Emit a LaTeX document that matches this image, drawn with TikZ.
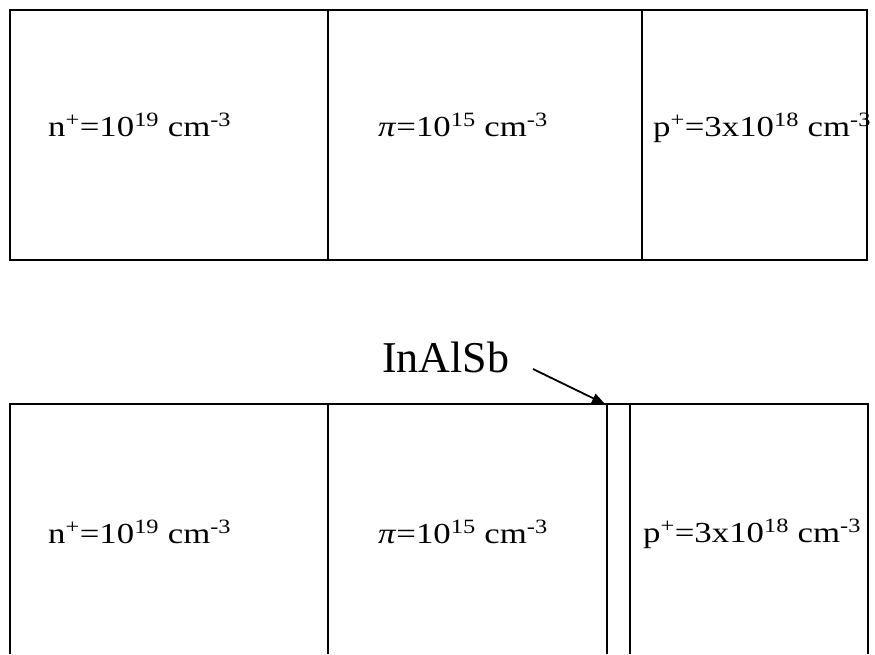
\documentclass[tikz,border=0pt]{standalone}
\usepackage{fontspec}
\setmainfont{Liberation Serif}
\newfontfamily\lblfont[FakeStretch=1.2]{Liberation Serif}
\usetikzlibrary{arrows.meta}
\tikzset{
  wall/.style={line width=1.3pt, black},
  lbl/.style={anchor=base west, inner sep=0pt, font=\lblfont\fontsize{29}{34}\selectfont},
  big/.style={anchor=base west, inner sep=0pt, font=\fontsize{44}{50}\selectfont},
  ptr/.style={line width=1.8pt, -{Triangle[length=13pt,width=10pt]}}
}
\newcommand{\sps}[1]{\textsuperscript{#1}}
\begin{document}
\begin{tikzpicture}[x=1pt,y=-1pt]
\useasboundingbox (0,0) rectangle (875,654);
% top structure
\draw[wall] (10,10) rectangle (867,260);
\draw[wall] (328,10) -- (328,260);
\draw[wall] (642,10) -- (642,260);
\node[lbl] (t1) at (48,136) {n\sps{+}=10\sps{19} cm\sps{-3}};
\node[lbl] (t2) at (378,136) {\textit{π}=10\sps{15} cm\sps{-3}};
\node[lbl] (t3) at (653,136) {p\sps{+}=3x10\sps{18} cm\sps{-3}};
% bottom structure
\draw[wall] (10,654) -- (10,404) -- (868,404) -- (868,654);
\draw[wall] (328,404) -- (328,654);
\draw[wall] (607,404) -- (607,654);
\draw[wall] (630,404) -- (630,654);
\coordinate (tip) at (605,404);
\node[lbl] (b1) at (48,543) {n\sps{+}=10\sps{19} cm\sps{-3}};
\node[lbl] (b2) at (378,543) {\textit{π}=10\sps{15} cm\sps{-3}};
\node[lbl] (b3) at (643,542) {p\sps{+}=3x10\sps{18} cm\sps{-3}};
\node[big] (lab) at (382,372) {InAlSb};
\coordinate (start) at (533,369);
\draw[ptr] (start) -- (tip);
\end{tikzpicture}
\end{document}
